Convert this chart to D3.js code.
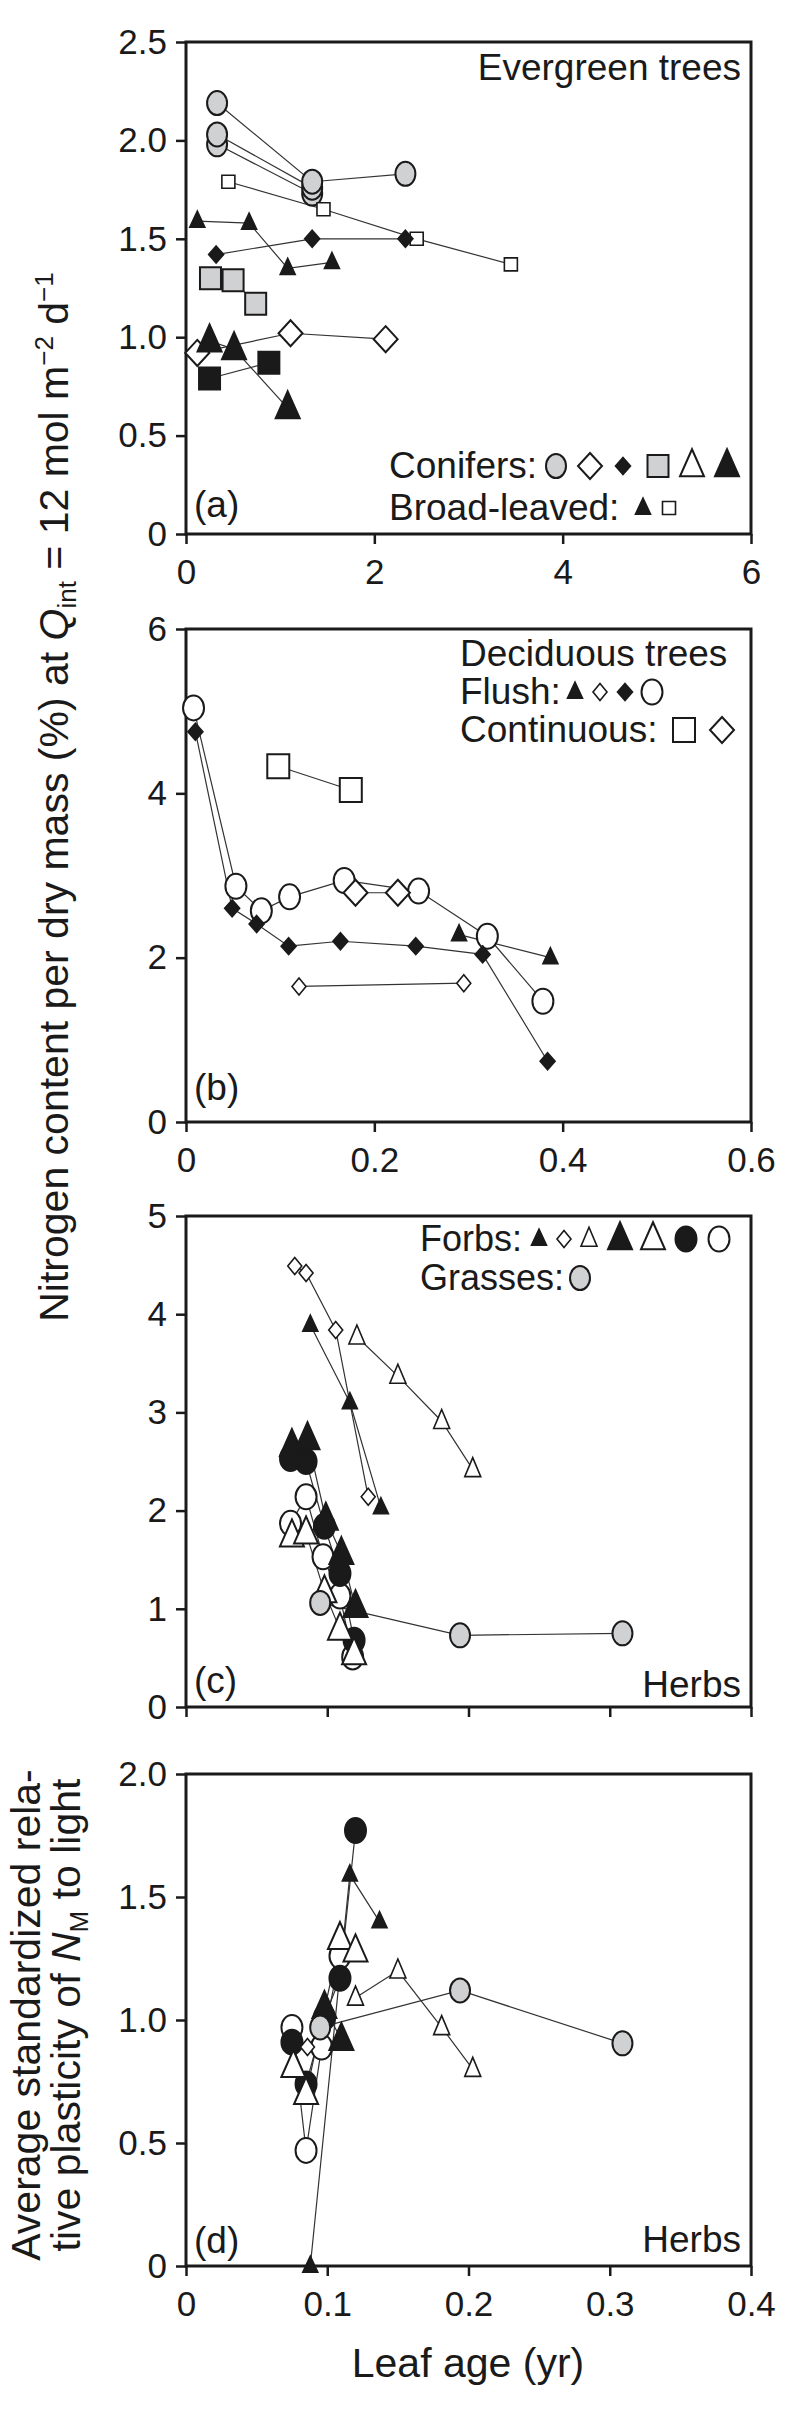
<!DOCTYPE html>
<html><head><meta charset="utf-8">
<script src="https://cdn.jsdelivr.net/npm/d3@7"></script>
<style>
body{margin:0;background:#fff}
svg{display:block}
text{font-family:"Liberation Sans",Arial,Helvetica,sans-serif;fill:#1a1a1a}
</style>
</head><body>
<svg id="chart" width="800" height="2414"></svg>
<script>
// ---------------- tick values ----------------
const A_xTicks = [0, 2, 4, 6];
const A_yTicks = [0, 0.5, 1, 1.5, 2, 2.5];
const B_xTicks = [0, 0.2, 0.4, 0.6];
const B_yTicks = [0, 2, 4, 6];
const C_xTicks = [0, 0.1, 0.2, 0.3, 0.4];
const C_yTicks = [0, 1, 2, 3, 4, 5];
const D_xTicks = [0, 0.1, 0.2, 0.3, 0.4];
const D_yTicks = [0, 0.5, 1, 1.5, 2];

// ---------------- panel (a) evergreen trees: [leaf age, N] ----------------
const a_conGrayCircle1 = [[0.33, 2.19], [1.34, 1.79], [2.33, 1.83]];
const a_conGrayCircle2 = [[0.33, 2.03], [1.34, 1.76]];
const a_conGrayCircle3 = [[0.33, 1.98], [1.34, 1.73]];
const a_conOpenDiamond = [[0.12, 0.92], [1.11, 1.02], [2.12, 0.99]];
const a_conBlackDiamond = [[0.32, 1.42], [1.34, 1.50], [2.33, 1.50]];
const a_conGraySquare = [[0.26, 1.30], [0.50, 1.29], [0.74, 1.17]];
const a_conBlackTriangle = [[0.25, 0.98], [0.51, 0.94], [1.08, 0.64]];
const a_conBlackSquare = [[0.25, 0.79], [0.88, 0.87]];
const a_blBlackTriangle = [[0.12, 1.59], [0.67, 1.58], [1.08, 1.35], [1.55, 1.38]];
const a_blOpenSquare = [[0.45, 1.79], [1.46, 1.65], [2.45, 1.50], [3.45, 1.37]];

// ---------------- panel (b) deciduous trees ----------------
const b_flushCircle = [[0.008, 5.04], [0.053, 2.87], [0.080, 2.57], [0.110, 2.74], [0.168, 2.94], [0.247, 2.81], [0.320, 2.26], [0.379, 1.47]];
const b_flushBlackDiamond = [[0.010, 4.75], [0.049, 2.60], [0.075, 2.41], [0.109, 2.14], [0.164, 2.20], [0.244, 2.14], [0.315, 2.04], [0.384, 0.74]];
const b_flushTriangle = [[0.290, 2.28], [0.387, 2.00]];
const b_flushOpenDiamond = [[0.120, 1.65], [0.295, 1.69]];
const b_contSquare = [[0.098, 4.33], [0.175, 4.04]];
const b_contDiamond = [[0.180, 2.79], [0.225, 2.79]];

// ---------------- panel (c) herbs ----------------
const c_forbSmallTriangle = [[0.088, 3.89], [0.116, 3.10], [0.138, 2.03]];
const c_forbSmallDiamond = [[0.077, 4.49], [0.085, 4.42], [0.106, 3.84], [0.129, 2.14]];
const c_forbMidTriangle = [[0.121, 3.77], [0.150, 3.37], [0.181, 2.91], [0.203, 2.42]];
const c_forbBigBlackTriangle = [[0.075, 2.66], [0.086, 2.73], [0.099, 1.91], [0.110, 1.56], [0.120, 1.02]];
const c_forbBigOpenTriangle = [[0.075, 1.74], [0.085, 1.77], [0.098, 1.17], [0.109, 0.79], [0.119, 0.54]];
const c_forbBlackEllipse = [[0.074, 2.53], [0.085, 2.50], [0.098, 1.84], [0.109, 1.36], [0.119, 0.68]];
const c_forbOpenEllipse = [[0.074, 1.87], [0.085, 2.14], [0.097, 1.53], [0.109, 1.13], [0.118, 0.51]];
const c_grassEllipse = [[0.095, 1.06], [0.194, 0.73], [0.309, 0.75]];

// ---------------- panel (d) herbs, plasticity ----------------
const d_forbSmallTriangle = [[0.088, 0.00], [0.116, 1.59], [0.137, 1.40]];
const d_forbSmallDiamond = [[0.086, 0.89]];
const d_forbMidTriangle = [[0.120, 1.09], [0.150, 1.20], [0.181, 0.97], [0.203, 0.80]];
const d_forbBigBlackTriangle = [[0.098, 1.05], [0.110, 0.92]];
const d_forbBigOpenTriangle = [[0.076, 0.81], [0.085, 0.70], [0.109, 1.33], [0.120, 1.28]];
const d_forbBlackEllipse = [[0.075, 0.91], [0.085, 0.74], [0.098, 1.01], [0.109, 1.17], [0.120, 1.77]];
const d_forbOpenEllipse = [[0.075, 0.97], [0.085, 0.47], [0.096, 0.89], [0.109, 1.26]];
const d_grassEllipse = [[0.095, 0.97], [0.194, 1.12], [0.309, 0.905]];

// ---------------- marker styles ----------------
const INK = '#1a1a1a', GRAY = '#d0d1d3', WHITE = '#ffffff';
const KINDS = {
  ellG: {shape: 'ell', w: 20, h: 24, fill: GRAY},
  ellO: {shape: 'ell', w: 21, h: 25, fill: WHITE},
  ellB: {shape: 'ell', w: 21, h: 25, fill: INK},
  dmO:  {shape: 'dia', w: 24, h: 26, fill: WHITE},
  dmB:  {shape: 'dia', w: 15, h: 17, fill: INK},
  dmOs: {shape: 'dia', w: 14, h: 17, fill: WHITE},
  sqG:  {shape: 'sq', w: 21, h: 22, fill: GRAY},
  sqB:  {shape: 'sq', w: 21, h: 22, fill: INK},
  sqO:  {shape: 'sq', w: 22, h: 24, fill: WHITE},
  sqOs: {shape: 'sq', w: 13, h: 13, fill: WHITE},
  trB:  {shape: 'tri', w: 24, h: 27, fill: INK},
  trO:  {shape: 'tri', w: 24, h: 27, fill: WHITE},
  trBs: {shape: 'tri', w: 15, h: 16, fill: INK},
  trOm: {shape: 'tri', w: 16, h: 19, fill: WHITE}
};
function shapePath(k) {
  const s = KINDS[k], w = s.w, h = s.h;
  if (s.shape === 'ell') { const rx = w / 2, ry = h / 2;
    return `M${-rx},0a${rx},${ry} 0 1,0 ${2*rx},0a${rx},${ry} 0 1,0 ${-2*rx},0Z`; }
  if (s.shape === 'dia') return `M0,${-h/2}L${w/2},0L0,${h/2}L${-w/2},0Z`;
  if (s.shape === 'sq') return `M${-w/2},${-h/2}h${w}v${h}h${-w}Z`;
  return `M0,${-0.62*h}L${w/2},${0.38*h}L${-w/2},${0.38*h}Z`;
}
function drawMarker(sel, k) {
  sel.attr('d', shapePath(k)).attr('fill', KINDS[k].fill)
     .attr('stroke', INK).attr('stroke-width', KINDS[k].w < 17 ? 1.6 : 2)
     .attr('stroke-linejoin', 'miter');
}

const svg = d3.select('#chart');
const L = 186, R = 751;
const fmt1 = d => d === 0 ? '0' : d3.format('.1f')(d);
const fmtG = d => d === 0 ? '0' : String(d);

const panels = [
  {xDomain: [0, 6], yDomain: [0, 2.5], top: 42, bottom: 534, xTicks: A_xTicks, yTicks: A_yTicks, xFmt: fmtG, yFmt: fmt1,
   series: [
     [a_conGrayCircle3, 'ellG'], [a_conGrayCircle2, 'ellG'], [a_conGrayCircle1, 'ellG'],
     [a_blOpenSquare, 'sqOs'], [a_blBlackTriangle, 'trBs'], [a_conBlackDiamond, 'dmB'],
     [a_conGraySquare, 'sqG'], [a_conOpenDiamond, 'dmO'], [a_conBlackTriangle, 'trB'], [a_conBlackSquare, 'sqB']
   ]},
  {xDomain: [0, 0.6], yDomain: [0, 6], top: 629, bottom: 1122, xTicks: B_xTicks, yTicks: B_yTicks, xFmt: fmtG, yFmt: fmtG,
   series: [
     [b_flushCircle, 'ellO'], [b_flushBlackDiamond, 'dmB'], [b_flushTriangle, 'trBs'],
     [b_flushOpenDiamond, 'dmOs'], [b_contSquare, 'sqO'], [b_contDiamond, 'dmO']
   ]},
  {xDomain: [0, 0.4], yDomain: [0, 5], top: 1216, bottom: 1707, xTicks: C_xTicks, yTicks: C_yTicks, xFmt: () => '', yFmt: fmtG,
   series: [
     [c_forbOpenEllipse, 'ellO'], [c_forbBlackEllipse, 'ellB'], [c_forbBigBlackTriangle, 'trB'],
     [c_forbBigOpenTriangle, 'trO'], [c_grassEllipse, 'ellG'], [c_forbMidTriangle, 'trOm'],
     [c_forbSmallTriangle, 'trBs'], [c_forbSmallDiamond, 'dmOs']
   ]},
  {xDomain: [0, 0.4], yDomain: [0, 2], top: 1774, bottom: 2266, xTicks: D_xTicks, yTicks: D_yTicks, xFmt: fmtG, yFmt: fmt1,
   series: [
     [d_forbOpenEllipse, 'ellO'], [d_forbBlackEllipse, 'ellB'], [d_forbBigBlackTriangle, 'trB'],
     [d_forbBigOpenTriangle, 'trO'], [d_grassEllipse, 'ellG'], [d_forbMidTriangle, 'trOm'],
     [d_forbSmallTriangle, 'trBs'], [d_forbSmallDiamond, 'dmOs']
   ]}
];

panels.forEach(cfg => {
  const x = d3.scaleLinear().domain(cfg.xDomain).range([L, R]);
  const y = d3.scaleLinear().domain(cfg.yDomain).range([cfg.bottom, cfg.top]);
  const g = svg.append('g');
  const ya = g.append('g').attr('transform', `translate(${L},0)`)
    .call(d3.axisLeft(y).tickValues(cfg.yTicks).tickFormat(cfg.yFmt).tickSize(10).tickPadding(9).tickSizeOuter(0));
  const xa = g.append('g').attr('transform', `translate(0,${cfg.bottom})`)
    .call(d3.axisBottom(x).tickValues(cfg.xTicks).tickFormat(cfg.xFmt).tickSize(10).tickPadding(15).tickSizeOuter(0));
  [ya, xa].forEach(a => {
    a.select('.domain').remove();
    a.attr('font-family', null).attr('font-size', null);
    a.selectAll('line').attr('stroke', INK).attr('stroke-width', 2.5);
    a.selectAll('text').attr('font-size', 35).attr('fill', INK);
  });
  g.append('rect').attr('x', L).attr('y', cfg.top).attr('width', R - L).attr('height', cfg.bottom - cfg.top)
    .attr('fill', 'none').attr('stroke', INK).attr('stroke-width', 3);
  const line = d3.line().x(d => x(d[0])).y(d => y(d[1]));
  cfg.series.forEach(([data]) => {
    if (data.length > 1) g.append('path').attr('d', line(data)).attr('fill', 'none')
      .attr('stroke', '#333').attr('stroke-width', 1.2);
  });
  cfg.series.forEach(([data, k]) => {
    g.selectAll(null).data(data).enter().append('path')
      .attr('transform', d => `translate(${x(d[0])},${y(d[1])})`)
      .call(drawMarker, k);
  });
});

// ---------------- texts and legends ----------------
function txt(x, y, s, size, anchor) {
  return svg.append('text').attr('x', x).attr('y', y).attr('font-size', size)
    .attr('text-anchor', anchor || 'start').text(s);
}
function sym(x, y, k) {
  svg.append('path').attr('transform', `translate(${x},${y})`).call(drawMarker, k);
}
// (a)
txt(741, 80, 'Evergreen trees', 37, 'end');
txt(389, 478, 'Conifers:', 37);
[['ellG', 556], ['dmO', 590], ['dmB', 623], ['sqG', 658], ['trO', 692], ['trB', 727]].forEach(([k, x]) => sym(x, 466, k));
txt(389, 520, 'Broad-leaved:', 37);
[['trBs', 643], ['sqOs', 669]].forEach(([k, x]) => sym(x, 508, k));
txt(194, 517, '(a)', 37);
// (b)
txt(460, 666, 'Deciduous trees', 37);
txt(460, 704, 'Flush:', 37);
[['trBs', 575], ['dmOs', 600], ['dmB', 625], ['ellO', 652]].forEach(([k, x]) => sym(x, 692, k));
txt(460, 742, 'Continuous:', 37);
[['sqO', 684], ['dmO', 722]].forEach(([k, x]) => sym(x, 730, k));
txt(194, 1100, '(b)', 37);
// (c)
txt(420, 1251, 'Forbs:', 36);
[['trBs', 539], ['dmOs', 564], ['trOm', 589], ['trB', 620], ['trO', 653], ['ellB', 686], ['ellO', 719]].forEach(([k, x]) => sym(x, 1239, k));
txt(420, 1290, 'Grasses:', 36);
sym(580, 1278, 'ellG');
txt(194, 1693, '(c)', 37);
txt(741, 1697, 'Herbs', 37, 'end');
// (d)
txt(194, 2253, '(d)', 37);
txt(741, 2252, 'Herbs', 37, 'end');
txt(468, 2377, 'Leaf age (yr)', 41, 'middle');

// y-axis titles
const yl = svg.append('text').attr('transform', 'translate(68,797) rotate(-90)')
  .attr('text-anchor', 'middle').attr('font-size', 41);
yl.append('tspan').text('Nitrogen content per dry mass (%) at ');
yl.append('tspan').attr('font-style', 'italic').text('Q');
yl.append('tspan').attr('font-size', 26).attr('dy', 8).text('int');
yl.append('tspan').attr('dy', -8).text(' = 12 mol m');
yl.append('tspan').attr('font-size', 26).attr('dy', -15).text('\u22122');
yl.append('tspan').attr('dy', 15).text(' d');
yl.append('tspan').attr('font-size', 26).attr('dy', -15).text('\u22121');

svg.append('text').attr('transform', 'translate(40,2015) rotate(-90)')
  .attr('text-anchor', 'middle').attr('font-size', 41).text('Average standardized rela-');
const yl2 = svg.append('text').attr('transform', 'translate(80,2015) rotate(-90)')
  .attr('text-anchor', 'middle').attr('font-size', 41);
yl2.append('tspan').text('tive plasticity of ');
yl2.append('tspan').attr('font-style', 'italic').text('N');
yl2.append('tspan').attr('font-size', 26).attr('dy', 8).text('M');
yl2.append('tspan').attr('dy', -8).text(' to light');
</script>
</body></html>
